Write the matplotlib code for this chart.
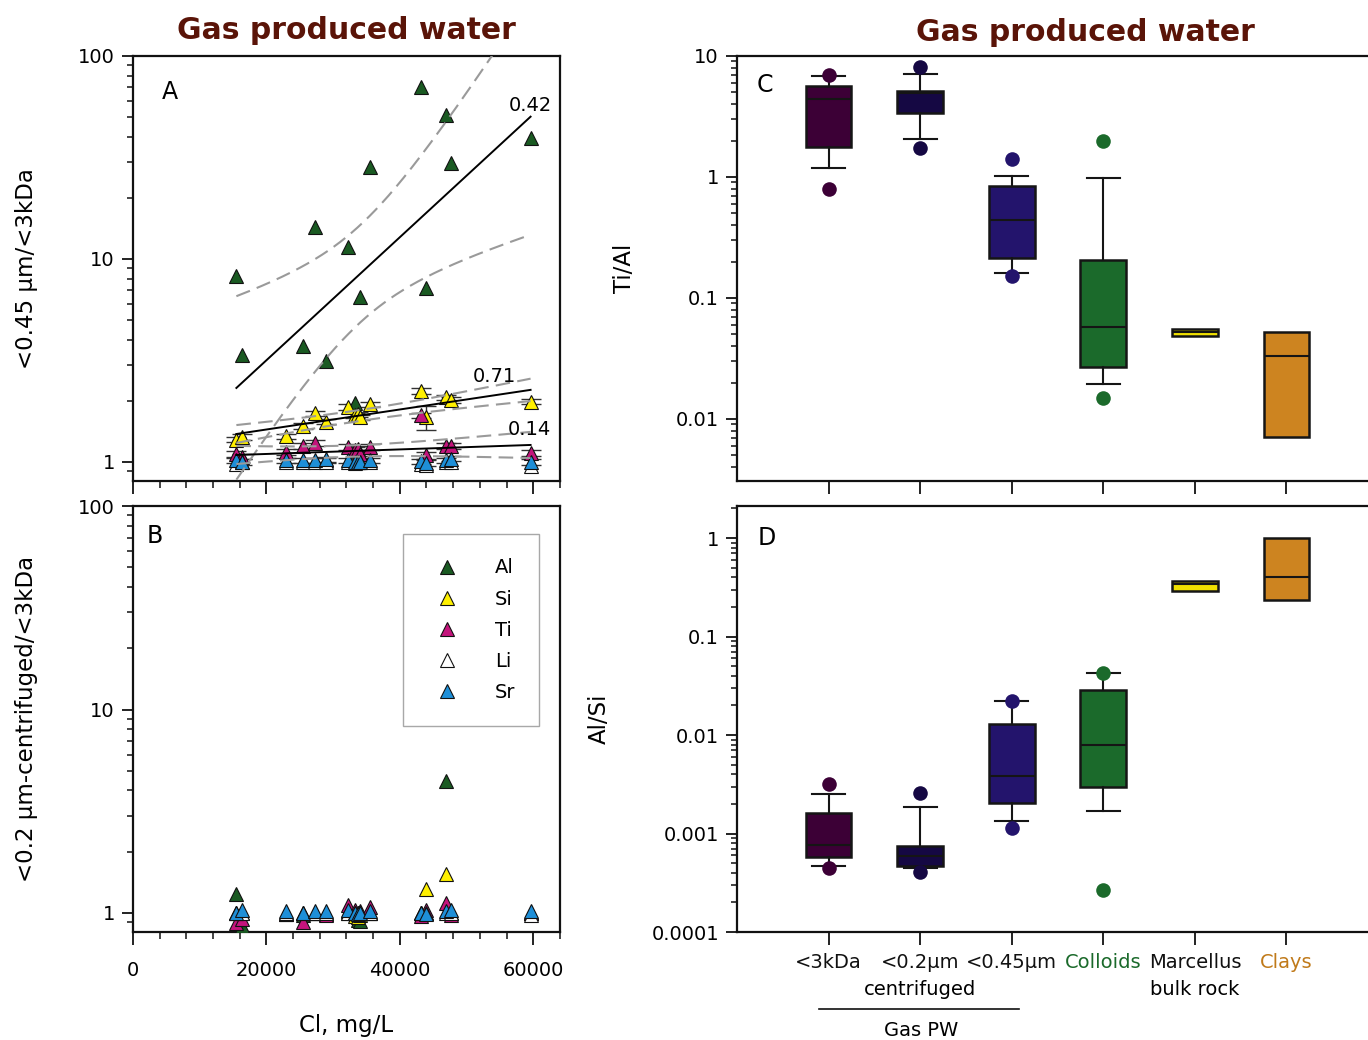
import numpy as np
import matplotlib.pyplot as plt
from matplotlib.ticker import MultipleLocator, LogLocator, FuncFormatter, NullFormatter
from matplotlib.lines import Line2D
from matplotlib.transforms import blended_transform_factory

plt.rcParams['font.family'] = ['DejaVu Sans']

### left panels: ratios vs chloride
cl = [15500, 16400, 23000, 25500, 27300, 29000, 32300, 33300, 33700, 34000,
      35600, 43200, 43900, 46900, 47700, 59600]

# <0.45 um / <3kDa
a_al = [8.25, 3.37, np.nan, 3.73, 14.3, 3.14, 11.4, 1.96, np.nan, 6.52,
        28.3, 70.6, 7.22, 51.2, 29.6, 39.3]
a_si = [1.29, 1.33, 1.34, 1.50, 1.74, 1.58, 1.87, 1.70, 1.72, 1.66,
        1.92, 2.24, 1.66, 2.08, 2.02, 1.98]
a_ti = [1.095, 1.06, 1.12, 1.20, 1.24, 1.02, 1.18, 1.15, 1.155, 1.10,
        1.18, 1.70, 1.08, 1.20, 1.20, 1.11]
a_li = [0.98, 1.0, 1.0, 1.0, 1.0, 1.0, 1.0, 0.99, 1.0, 1.0,
        1.0, 0.98, 0.97, 1.0, 1.0, 0.955]
a_sr = [1.02, 1.0, 1.02, 1.02, 1.02, 1.03, 1.02, 1.0, 1.0, 1.0,
        1.02, 1.01, 0.99, 1.02, 1.04, 1.0]
a_si_err = [0.04, 0.04, 0.04, 0.05, 0.05, 0.05, 0.06, 0.05, 0.05, 0.05,
            0.06, 0.07, 0.22, 0.06, 0.06, 0.06]
a_ti_err = [0.04, 0.03, 0.04, 0.04, 0.04, 0.03, 0.04, 0.04, 0.04, 0.03,
            0.04, 0.05, 0.04, 0.04, 0.04, 0.04]
a_sr_err = [0.03, 0.03, 0.03, 0.03, 0.03, 0.03, 0.03, 0.03, 0.03, 0.03,
            0.03, 0.03, 0.03, 0.03, 0.03, 0.03]

# exponential fits: log10(y) = a + b*Cl, band half-width sqrt(h0^2 + (k*(Cl-xc))^2)
al_fit, al_band, al_r2 = (-0.105, 3.03e-5), (0.24, 2.07e-5, 34000), "0.42"
si_fit, si_band, si_r2 = (0.0614, 4.93e-6), (0.027, 1.88e-6, 34000), "0.71"
ti_fit, ti_band, ti_r2 = (0.0171, 1.12e-6), (0.028, 2.1e-6, 32000), "0.14"

# <0.2 um centrifuged / <3kDa
b_al = [1.24, 0.86, 1.0, 0.98, 1.0, 1.0, 1.02, 1.0, 0.92, 0.91,
        1.0, 1.0, 1.0, 4.47, 1.0, 1.0]
b_si = [1.0, 1.0, 0.99, 1.0, 1.0, 0.99, 1.0, 0.97, 0.96, 0.98,
        1.0, 1.0, 1.31, 1.55, 1.0, 1.0]
b_ti = [0.89, 0.93, 0.99, 0.905, 1.0, 0.98, 1.10, 1.03, 1.0, 1.02,
        1.07, 0.97, 1.04, 1.12, 0.98, 1.0]
b_li = [1.0, 1.0, 1.0, 1.0, 1.0, 1.0, 1.0, 1.0, 1.0, 1.0,
        1.0, 1.0, 1.0, 1.0, 1.0, 0.98]
b_sr = [1.0, 1.03, 1.02, 1.0, 1.02, 1.02, 1.04, 1.0, 0.99, 1.0,
        1.02, 1.0, 0.99, 1.02, 1.03, 1.02]

elements = ["Al", "Si", "Ti", "Li", "Sr"]
el_colors = ["#1a5a22", "#fff000", "#c4147c", "#ffffff", "#1e8fd8"]

### right panels: box plots
groups = ["<3kDa", "<0.2µm", "<0.45µm", "Colloids", "Marcellus", "Clays"]
subgroups = ["", "centrifuged", "", "", "bulk rock", ""]
group_colors = ["#3c0036", "#150843", "#23146c", "#1b6a2b", "#f0e000", "#cd8420"]
label_colors = ["#111111", "#111111", "#111111", "#1b6a2b", "#111111", "#c07a1a"]

tial_med = [4.44, 4.92, 0.444, 0.058, 0.052, 0.033]
tial_q1 = [1.77, 3.38, 0.214, 0.0268, 0.0485, 0.0071]
tial_q3 = [5.68, 5.17, 0.838, 0.206, 0.0555, 0.0527]
tial_lo = [1.19, 2.06, 0.160, 0.0194, 0.0485, 0.0071]
tial_hi = [6.83, 7.06, 1.02, 0.976, 0.0555, 0.0527]
tial_out = [[6.92, 0.79], [8.16, 1.74], [1.42, 0.152], [2.0, 0.015], [], []]

alsi_med = [0.00076, 0.000593, 0.0038, 0.0080, 0.34, 0.403]
alsi_q1 = [0.000578, 0.000473, 0.00205, 0.00294, 0.288, 0.233]
alsi_q3 = [0.00162, 0.000754, 0.013, 0.0288, 0.363, 1.0]
alsi_lo = [0.000466, 0.000451, 0.00135, 0.00169, 0.288, 0.233]
alsi_hi = [0.00252, 0.00187, 0.0219, 0.0424, 0.363, 1.0]
alsi_out = [[0.00318, 0.000451], [0.00258, 0.000409], [0.0219, 0.00114], [0.043, 0.000267], [], []]

TITLE_COLOR = "#5a1408"
INK = "#111111"

fig = plt.figure(figsize=(13.68, 10.40), dpi=100)
axA = fig.add_axes([0.0972, 0.5375, 0.3121, 0.4087])
axB = fig.add_axes([0.0972, 0.1038, 0.3121, 0.4096])
axC = fig.add_axes([0.5387, 0.5375, 0.4613, 0.4087])
axD = fig.add_axes([0.5387, 0.1038, 0.4613, 0.4096])

logfmt = FuncFormatter(lambda v, p: f"{v:g}")


def style_log_axis(ax):
    ax.set_yscale("log")
    ax.yaxis.set_major_locator(LogLocator(base=10))
    ax.yaxis.set_minor_locator(LogLocator(base=10, subs=range(2, 10), numticks=20))
    ax.yaxis.set_major_formatter(logfmt)
    ax.yaxis.set_minor_formatter(NullFormatter())
    for s in ax.spines.values():
        s.set_linewidth(1.6)
        s.set_color(INK)
    ax.tick_params(which="major", direction="out", length=8, width=1.3,
                   labelsize=14, color=INK, pad=5)
    ax.tick_params(which="minor", direction="out", length=4.5, width=1.1, color=INK)
    ax.tick_params(axis="x", which="both", top=False)
    ax.tick_params(axis="y", which="both", right=False)


def draw_fit(ax, fit, band, label, label_xy):
    xx = np.linspace(min(cl), max(cl), 200)
    a, b = fit
    h0, k, xc = band
    mid = a + b * xx
    h = np.sqrt(h0 ** 2 + (k * (xx - xc)) ** 2)
    ax.plot(xx, 10 ** mid, color="black", lw=1.4, zorder=4)
    for sgn in (1, -1):
        ax.plot(xx, 10 ** (mid + sgn * h), color="#9a9a9a", lw=1.5,
                dashes=(7, 3.5), zorder=4)
    ax.text(label_xy[0], label_xy[1], label, ha="center", va="center", fontsize=14, zorder=5)


def scatter_elements(ax, series, errs=None):
    for i, (vals, name, c) in enumerate(zip(series, elements, el_colors)):
        if errs is not None and errs[i] is not None:
            ax.errorbar(cl, vals, yerr=errs[i], fmt="none", ecolor="#333333",
                        elinewidth=1.0, capsize=7.5, capthick=1.0, zorder=2)
        ax.plot(cl, vals, "^", ls="none", ms=10.5, mfc=c, mec=INK, mew=0.8,
                zorder=3, label=name)


for ax in (axA, axB):
    style_log_axis(ax)
    ax.set_xlim(0, 64000)
    ax.set_ylim(0.806, 100)
    ax.xaxis.set_major_locator(MultipleLocator(20000))
    ax.xaxis.set_minor_locator(MultipleLocator(4000))
    ax.tick_params(axis="x", which="major", length=9)
    ax.tick_params(axis="x", which="minor", length=5)

scatter_elements(axA, [a_al, a_si, a_ti, a_li, a_sr],
                 errs=[None, a_si_err, a_ti_err, None, a_sr_err])
draw_fit(axA, al_fit, al_band, al_r2, (59620, 57))
draw_fit(axA, si_fit, si_band, si_r2, (54230, 2.65))
draw_fit(axA, ti_fit, ti_band, ti_r2, (59470, 1.44))
axA.tick_params(axis="x", labelbottom=False)
axA.set_ylabel("<0.45 µm/<3kDa", fontsize=16.5)
axA.yaxis.set_label_coords(-0.222, 0.5)
axA.text(0.087, 0.915, "A", transform=axA.transAxes, fontsize=17, va="center", ha="center")
axA.text(0.5, 1.061, "Gas produced water", transform=axA.transAxes, fontsize=21.5,
         fontweight="bold", color=TITLE_COLOR, ha="center", va="center")

scatter_elements(axB, [b_al, b_si, b_ti, b_li, b_sr])
axB.set_ylabel("<0.2 µm-centrifuged/<3kDa", fontsize=16.5)
axB.yaxis.set_label_coords(-0.222, 0.5)
axB.set_xlabel("Cl, mg/L", fontsize=16.5, labelpad=24)
axB.tick_params(axis="x", pad=12)
axB.text(0.052, 0.93, "B", transform=axB.transAxes, fontsize=17, va="center", ha="center")

handles = [Line2D([], [], marker="^", ls="none", ms=10, mfc=c, mec=INK, mew=0.8)
           for c in el_colors]
leg = axB.legend(handles, elements, loc="upper left", bbox_to_anchor=(0.632, 0.934, 0.319, 0),
                 mode="expand", borderaxespad=0, fontsize=14, frameon=True, fancybox=False,
                 edgecolor="#a8a8a8", framealpha=1, borderpad=1.25, labelspacing=0.62,
                 handlelength=2.0, handletextpad=1.5)
leg.get_frame().set_linewidth(1.0)

### box plots
pos = np.arange(1, len(groups) + 1)
panels = [
    (axC, tial_med, tial_q1, tial_q3, tial_lo, tial_hi, tial_out),
    (axD, alsi_med, alsi_q1, alsi_q3, alsi_lo, alsi_hi, alsi_out),
]
for ax, med, q1, q3, lo, hi, out in panels:
    style_log_axis(ax)
    ax.spines["right"].set_visible(False)
    for i in range(len(groups)):
        stats = [dict(med=med[i], q1=q1[i], q3=q3[i], whislo=lo[i], whishi=hi[i],
                      fliers=out[i])]
        ax.bxp(stats, positions=[pos[i]], widths=0.5, patch_artist=True,
               capwidths=0.36, showcaps=lo[i] < q1[i], manage_ticks=False,
               boxprops=dict(facecolor=group_colors[i], edgecolor="#151515", linewidth=1.8),
               whiskerprops=dict(color="#151515", linewidth=1.5),
               capprops=dict(color="#151515", linewidth=1.5),
               medianprops=dict(color="#151515", linewidth=1.5),
               flierprops=dict(marker="o", markerfacecolor=group_colors[i],
                               markeredgecolor="none", markersize=10.5))
    ax.set_xlim(0, 6.89)
    ax.set_xticks(pos)
    ax.tick_params(axis="x", which="major", length=9)

axC.set_ylim(0.00307, 10)
axC.tick_params(axis="x", labelbottom=False)
axC.set_ylabel("Ti/Al", fontsize=16.5)
axC.yaxis.set_label_coords(-0.16, 0.5)
axC.text(0.044, 0.932, "C", transform=axC.transAxes, fontsize=17, va="center", ha="center")
axC.text(0.553, 1.056, "Gas produced water", transform=axC.transAxes, fontsize=21.5,
         fontweight="bold", color=TITLE_COLOR, ha="center", va="center")

axD.set_ylim(1e-4, 2.11)
axD.set_xticklabels(groups, fontsize=14)
for lab, c in zip(axD.get_xticklabels(), label_colors):
    lab.set_color(c)
axD.tick_params(axis="x", pad=6)
# second line of the two-line category names
for p, sub in zip(pos, subgroups):
    if sub:
        axD.text(p, -0.136, sub, transform=axD.get_xaxis_transform(), fontsize=14,
                 ha="center", va="center")
axD.set_ylabel("Al/Si", fontsize=16.5)
axD.yaxis.set_label_coords(-0.2, 0.5)
axD.text(0.048, 0.925, "D", transform=axD.transAxes, fontsize=17, va="center", ha="center")

# bracket grouping the produced-water fractions
tr = blended_transform_factory(axD.transData, fig.transFigure)
fig.add_artist(Line2D([0.9, 3.08], [0.0298, 0.0298], transform=tr, color=INK, lw=1.2))
fig.text(0.673, 0.009, "Gas PW", fontsize=14, ha="center", va="center")

fig.savefig("out.png", dpi=100)
